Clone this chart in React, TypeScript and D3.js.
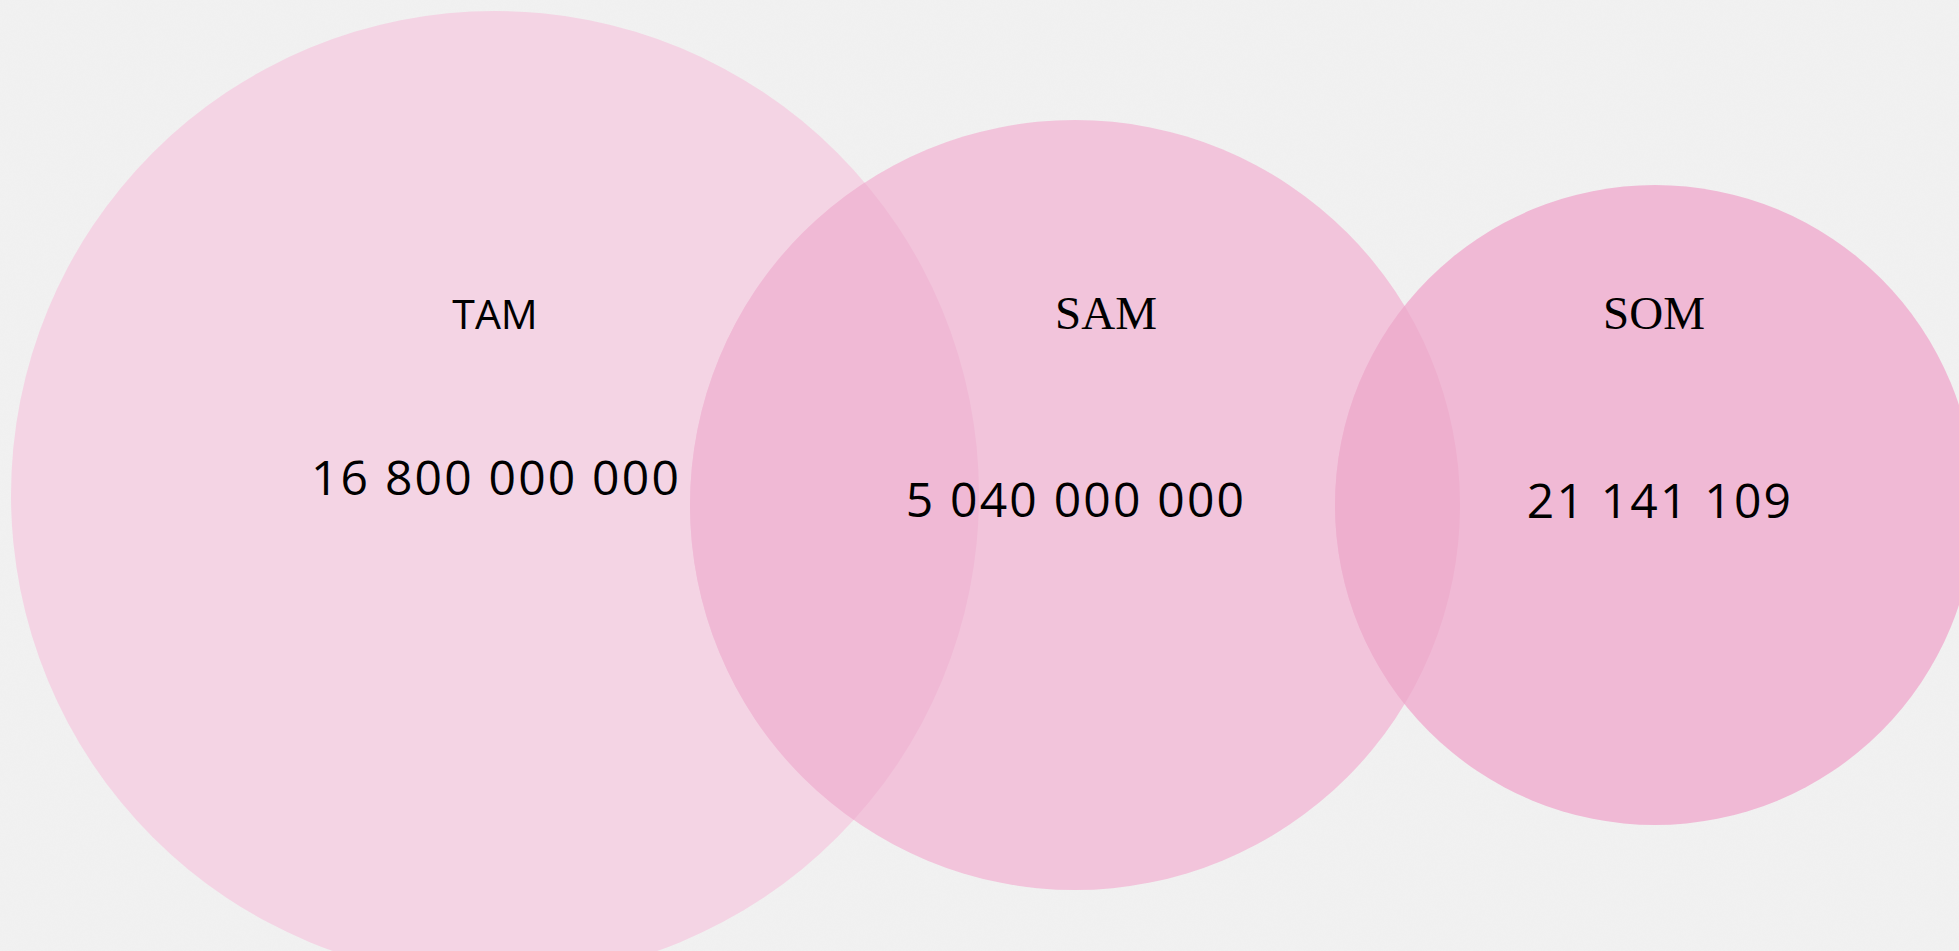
import React, { useMemo } from "react";
import * as d3 from "d3";

const categories = ["TAM", "SAM", "SOM"];
const values = [16800000000, 5040000000, 21141109];
const valueLabels = ["16 800 000 000", "5 040 000 000", "21 141 109"];

function App() {
  const width = 1959;
  const height = 951;

  const xScale = useMemo(
    () => d3.scalePoint<string>().domain(categories).range([495, 1655]),
    []
  );
  const rScale = useMemo(
    () => d3.scaleOrdinal<string, number>().domain(categories).range([484, 385, 320]),
    []
  );
  const yScale = useMemo(
    () => d3.scaleOrdinal<string, number>().domain(categories).range([495, 505, 505]),
    []
  );
  const fill = d3
    .scaleOrdinal<string, string>()
    .domain(categories)
    .range(["#f4d4e4", "#f2c4db", "#f0b9d5"]);
  const overlapFill = ["#f0b9d5", "#eeafce"];

  const labelDx = [0, 31, -1];
  const numDy = [0, 12, 13];

  const circles = categories.map((c) => (
    <circle key={c} cx={xScale(c)} cy={yScale(c)} r={rScale(c)} fill={fill(c)} />
  ));

  // overlaps between neighbours: the next circle clipped by the previous one
  const overlaps = categories.slice(1).map((c, i) => (
    <circle
      key={"o" + c}
      cx={xScale(c)}
      cy={yScale(c)}
      r={rScale(c)}
      fill={overlapFill[i]}
      clipPath={`url(#clip-${categories[i]})`}
    />
  ));

  const labels = categories.map((c, i) => (
    <text
      key={"l" + c}
      x={(xScale(c) ?? 0) + labelDx[i]}
      y={329}
      textAnchor="middle"
      fontSize={i === 0 ? 41 : 47}
      fontFamily={i === 0 ? "'Open Sans', sans-serif" : "'Liberation Serif', 'Times New Roman', serif"}
      fill="#000"
    >
      {c}
    </text>
  ));

  const numbers = categories.map((c, i) => (
    <text
      key={"n" + c}
      x={(xScale(c) ?? 0) + (i === 2 ? 5 : 1)}
      y={yScale(c) + numDy[i]}
      textAnchor="middle"
      fontSize={48}
      letterSpacing={2.2}
      fontFamily="'Open Sans', sans-serif"
      fill="#000"
      data-value={values[i]}
    >
      {valueLabels[i]}
    </text>
  ));

  return (
    <div>
      <style>{"body{margin:0;overflow:hidden;}"}</style>
      <svg width={width} height={height} style={{ display: "block" }}>
        <defs>
          {categories.map((c) => (
            <clipPath key={c} id={`clip-${c}`}>
              <circle cx={xScale(c)} cy={yScale(c)} r={rScale(c)} />
            </clipPath>
          ))}
          <filter id="paper" x="0" y="0" width="100%" height="100%">
            <feTurbulence type="fractalNoise" baseFrequency="0.9 0.6" numOctaves={2} seed={3} />
            <feColorMatrix type="matrix" values="0 0 0 0 0.85  0 0 0 0 0.85  0 0 0 0 0.85  0 0 0 0.45 0" />
          </filter>
        </defs>
        <rect width={width} height={height} fill="#f1f1f1" />
        <rect width={width} height={height} filter="url(#paper)" opacity={0.6} />
        {circles}
        {overlaps}
        {labels}
        {numbers}
      </svg>
    </div>
  );
}

export default App;
